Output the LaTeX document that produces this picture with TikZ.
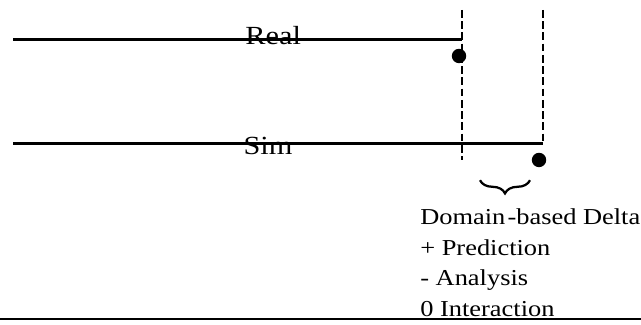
\documentclass[tikz,border=0pt]{standalone}
\usepackage{fontspec}
\setmainfont{Liberation Serif}
\usetikzlibrary{decorations.pathreplacing}
\newcommand{\wide}[1]{\scalebox{1.16}[1]{#1}}

\begin{document}
\begin{tikzpicture}[
    track/.style={line width=2.6pt},
    guide/.style={dash pattern=on 5.5pt off 2.5pt, line width=1pt},
    marker/.style={circle,fill,inner sep=0pt,minimum size=0.36cm},
    tag/.style={inner sep=0pt,anchor=base,font=\fontsize{18.6}{20}\selectfont},
    note/.style={inner sep=0pt,anchor=base west,font=\fontsize{16.2}{20}\selectfont}
]
    \useasboundingbox (0,0) rectangle (16.025,8.125);
    % two runs
    \coordinate (realStart) at (0.325,7.14);
    \coordinate (realEnd) at (11.56,7.14);
    \coordinate (simStart) at (0.325,4.54);
    \coordinate (simEnd) at (13.57,4.54);
    \draw[track] (realStart) -- (realEnd);
    \draw[track] (simStart) -- (simEnd);
    \node[tag] (real) at (6.83,7.0) {\wide{Real}};
    \node[tag] (sim) at (6.7,4.25) {\wide{Sim}};
    \node[marker] (realDot) at (11.475,6.725) {};
    \node[marker] (simDot) at (13.475,4.125) {};
    % end markers
    \coordinate (realTop) at (11.55,7.875);
    \coordinate (realLow) at (11.55,4.125);
    \coordinate (simTop) at (13.57,7.875);
    \draw[guide] (realTop) -- (realLow);
    \draw[guide] (simTop) -- (simEnd);
    % delta
    \coordinate (braceL) at (12.0,3.62);
    \coordinate (braceR) at (13.25,3.62);
    \draw[decorate,decoration={brace,mirror,amplitude=0.33cm},line width=1.6pt] (braceL) -- (braceR);
    \node[note] (delta) at (10.5,2.5) {\wide{Domain\kern0.08em-based Delta}};
    \node[note] (pred) at (10.5,1.7375) {\wide{+ Prediction}};
    \node[note] (ana) at (10.5,0.975) {\wide{- Analysis}};
    \node[note] (inter) at (10.5,0.2125) {\wide{0 Interaction}};
    \coordinate (baseL) at (0,0.1425);
    \coordinate (baseR) at (16.025,0.1425);
    \draw[line width=1.3pt] (baseL) -- (baseR);
\end{tikzpicture}
\end{document}
